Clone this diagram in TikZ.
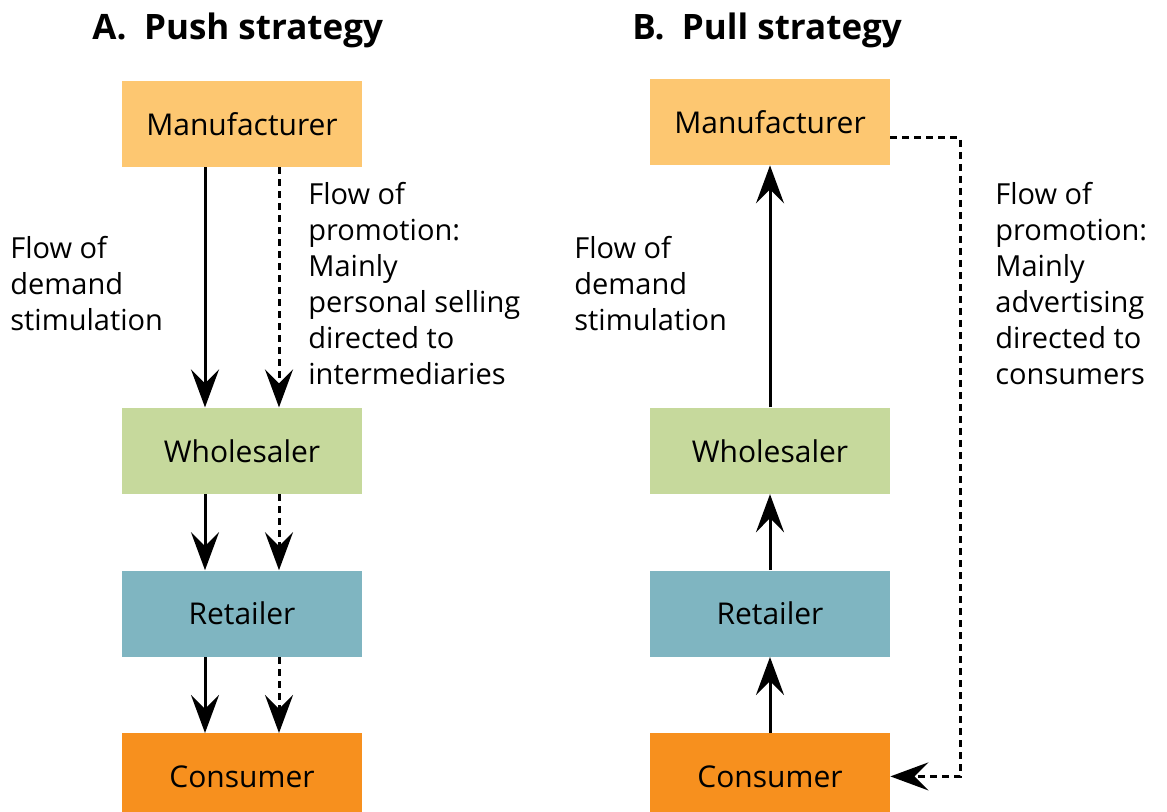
\documentclass[tikz,border=0pt]{standalone}
\usepackage{fontspec}
\setmainfont{Open Sans}
\usetikzlibrary{positioning,arrows.meta}
\definecolor{manuf}{HTML}{FDC771}
\definecolor{whole}{HTML}{C6D99C}
\definecolor{retail}{HTML}{7FB5C1}
\definecolor{consum}{HTML}{F7901E}

\begin{document}
\begin{tikzpicture}[node distance=38pt,
  box/.style={minimum width=120pt, minimum height=43pt, inner sep=0pt, font=\fontsize{15}{18}\selectfont},
  lbl/.style={align=left, anchor=north west, inner sep=0pt, font=\fontsize{14.5}{18}\selectfont},
  title/.style={anchor=base west, inner sep=0pt, font=\fontsize{17.5}{20}\selectfont\bfseries},
  flow/.style={line width=1.5pt, -{Stealth[length=19pt,width=14pt,inset=7pt]}},
  promo/.style={flow, dash pattern=on 3.5pt off 2.5pt}]
\useasboundingbox (0,0) rectangle (583.5pt,-406pt);

% titles
\node (TA) [title] at (46pt,-20pt) {A.\enspace Push strategy};
\node (TB) [title] at (316pt,-20pt) {B.\enspace Pull strategy};

% push strategy
\node (MA) [box, fill=manuf] at (121pt,-62pt) {Manufacturer};
\node (WA) [box, fill=whole, below=120pt of MA] {Wholesaler};
\node (RA) [box, fill=retail, below=of WA] {Retailer};
\node (CA) [box, fill=consum, below=of RA] {Consumer};

\draw[flow] ([xshift=-18.5pt]MA.south) -- ([xshift=-18.5pt]WA.north);
\draw[flow] ([xshift=-18.5pt]WA.south) -- ([xshift=-18.5pt]RA.north);
\draw[flow] ([xshift=-18.5pt]RA.south) -- ([xshift=-18.5pt]CA.north);
\draw[promo] ([xshift=18.5pt]MA.south) -- ([xshift=18.5pt]WA.north);
\draw[promo] ([xshift=18.5pt]WA.south) -- ([xshift=18.5pt]RA.north);
\draw[promo] ([xshift=18.5pt]RA.south) -- ([xshift=18.5pt]CA.north);

\node (DA) [lbl] at (5pt,-118pt) {Flow of\\demand\\stimulation};
\node (PA) [lbl] at (154pt,-91pt) {Flow of\\promotion:\\Mainly\\personal selling\\directed to\\intermediaries};

% pull strategy
\node (MB) [box, fill=manuf] at (385pt,-61pt) {Manufacturer};
\node (WB) [box, fill=whole] at (WA -| MB) {Wholesaler};
\node (RB) [box, fill=retail, below=of WB] {Retailer};
\node (CB) [box, fill=consum, below=of RB] {Consumer};

\draw[flow] (WB.north) -- (MB.south);
\draw[flow] (RB.north) -- (WB.south);
\draw[flow] (CB.north) -- (RB.south);
\coordinate (T) at ([xshift=35pt,yshift=-8pt]MB.east);
\draw[promo] ([yshift=-8pt]MB.east) -- (T) |- (CB.east);

\node (DB) [lbl] at (287pt,-118pt) {Flow of\\demand\\stimulation};
\node (PB) [lbl] at (497.5pt,-91pt) {Flow of\\promotion:\\Mainly\\advertising\\directed to\\consumers};
\end{tikzpicture}
\end{document}
